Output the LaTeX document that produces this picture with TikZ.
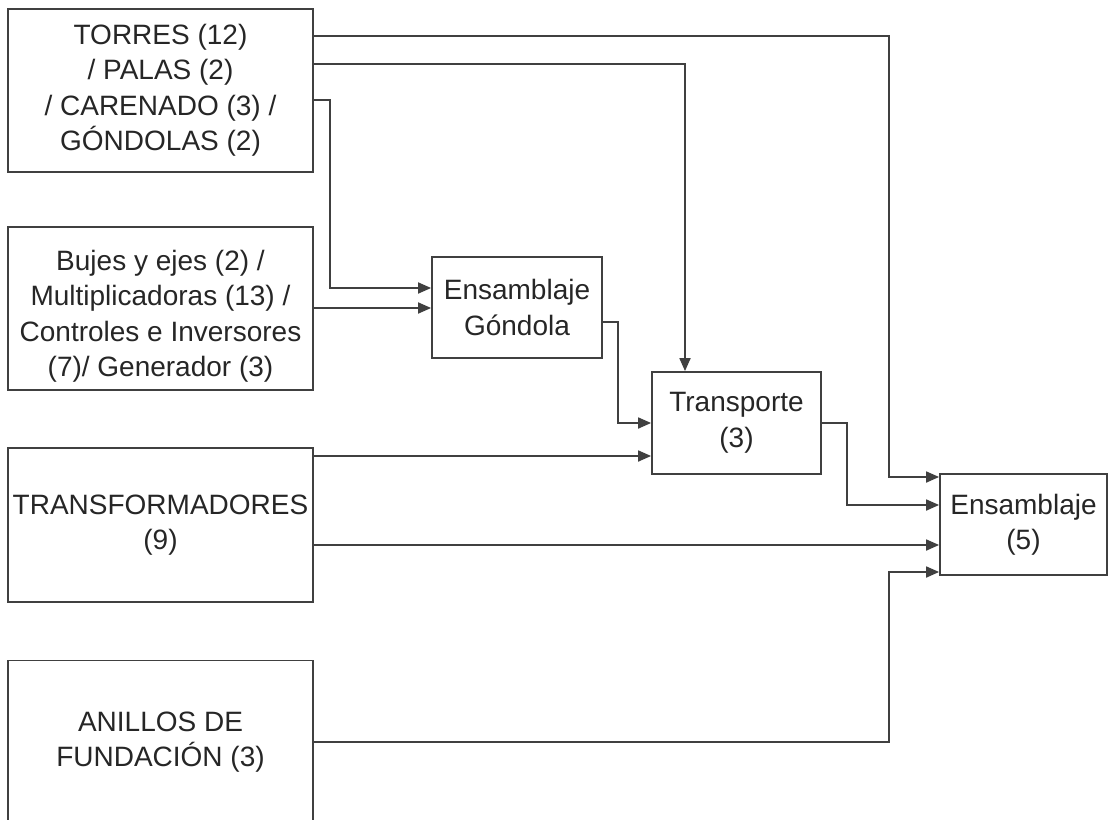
\documentclass[tikz,border=0pt]{standalone}
\usepackage{fontspec}
\setmainfont{Liberation Sans}
\usetikzlibrary{arrows.meta}

\begin{document}
\begin{tikzpicture}[x=0.5pt,y=-0.5pt,>={Triangle[length=6.5pt,width=5.5pt]},line width=0.9pt,
  blk/.style={draw=black!75,rectangle,inner sep=0pt,align=center,text=black!85,
    font=\fontsize{14pt}{17.75pt}\selectfont},
  link/.style={->,draw=black!75}]
\useasboundingbox (0,0) rectangle (1108,819);
% sources on the left
\node[blk,minimum width=152.5pt,minimum height=81.5pt] (torres) at (160.5,90.5)
  {TORRES (12)\\ / PALAS (2)\\ / CARENADO (3) /\\ GÓNDOLAS (2)};
\node[blk,minimum width=152.5pt,minimum height=81.5pt] (bujes) at (160.5,308.5)
  {\rule{0pt}{18pt}Bujes y ejes (2) /\\ Multiplicadoras (13) /\\ Controles e Inversores\\ (7)/ Generador (3)};
\node[blk,minimum width=152.5pt,minimum height=77pt] (trafo) at (160.5,525)
  {TRANSFORMADORES\\ (9)};
\node[blk,minimum width=152.5pt,minimum height=81.5pt] (anillos) at (160.5,742)
  {ANILLOS DE\\ FUNDACIÓN (3)};
% process steps
\node[blk,minimum width=85pt,minimum height=50.5pt] (gondola) at (517,307.5) {Ensamblaje\\ Góndola};
\node[blk,minimum width=84.5pt,minimum height=51pt] (transp) at (736.5,423) {Transporte\\ (3)};
\node[blk,minimum width=83.5pt,minimum height=50.5pt] (ensam) at (1023.5,524.5) {Ensamblaje\\ (5)};
% flows
\draw[link] (torres.east |- 0,36) -- (889,36) |- (ensam.west |- 0,477);
\draw[link] (torres.east |- 0,64) -| (transp.north -| 685,0);
\draw[link] (torres.east |- 0,100) -| (330,288) -- (gondola.west |- 0,288);
\draw[link] (bujes.east |- 0,308) -- (gondola.west |- 0,308);
\draw[link] (gondola.east |- 0,322) -| (618,423) -- (transp.west);
\draw[link] (trafo.east |- 0,456) -- (transp.west |- 0,456);
\draw[link] (transp.east) -| (847,505) -- (ensam.west |- 0,505);
\draw[link] (trafo.east |- 0,545) -- (ensam.west |- 0,545);
\draw[link] (anillos.east) -| (889,572) -- (ensam.west |- 0,572);
\end{tikzpicture}
\end{document}
